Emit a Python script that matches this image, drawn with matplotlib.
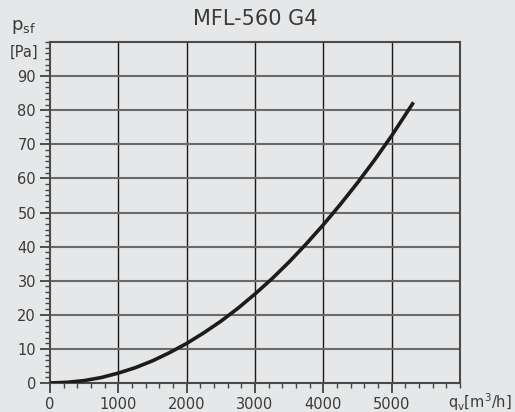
import numpy as np
import matplotlib.pyplot as plt
from matplotlib.ticker import MultipleLocator

# curve
q_v = [0, 250, 500, 750, 1000, 1250, 1500, 1750, 2000, 2250, 2500, 2750,
       3000, 3250, 3500, 3750, 4000, 4250, 4500, 4750, 5000, 5320]
p_sf = [0, 0.2, 0.7, 1.6, 2.9, 4.5, 6.5, 8.9, 11.6, 14.7, 18.1, 21.9,
        26.1, 30.6, 35.5, 40.8, 46.4, 52.4, 58.7, 65.4, 72.5, 82.3]

x_ticks = [0, 1000, 2000, 3000, 4000, 5000]
y_ticks = [0, 10, 20, 30, 40, 50, 60, 70, 80, 90]

bg = '#e6e7e8'
txt = '#3a3a3a'

plt.rcParams['font.family'] = 'DejaVu Sans'

fig = plt.figure(figsize=(5.15, 4.12), dpi=100, facecolor=bg)
ax = fig.add_axes([0.0971, 0.0704, 0.7960, 0.8276])
ax.set_facecolor(bg)

ax.set_xlim(0, 6000)
ax.set_ylim(0, 100)

# grid: black verticals, grey horizontals
for x in x_ticks[1:]:
    ax.axvline(x, color='#1a1a1a', lw=1.0, zorder=1)
for y in y_ticks[1:]:
    ax.axhline(y, color='#6a6a6a', lw=1.5, zorder=1)

ax.plot(q_v, p_sf, '-', color='#1c1c1c', lw=2.6, solid_capstyle='butt',
        solid_joinstyle='round', zorder=3)

ax.set_xticks(x_ticks)
ax.set_yticks(y_ticks)
ax.xaxis.set_minor_locator(MultipleLocator(200))
ax.yaxis.set_minor_locator(MultipleLocator(10 / 6))
ax.tick_params(which='major', length=7, width=1.2, color='#333333',
               labelsize=10.5, labelcolor=txt, pad=3)
ax.tick_params(which='minor', length=3.5, width=1.0, color='#444444')
for s in ax.spines.values():
    s.set_color('#4a4a4a')
    s.set_linewidth(1.5)

fig.text(0.495, 0.955, 'MFL-560 G4', ha='center', va='center', fontsize=15, color=txt)
fig.text(0.022, 0.935, r'p$_{\mathregular{sf}}$', ha='left', va='center', fontsize=13, color=txt)
fig.text(0.018, 0.873, '[Pa]', ha='left', va='center', fontsize=10.5, color=txt)
fig.text(0.994, 0.023, r'q$_{\mathregular{v}}$[m$^{\mathregular{3}}$/h]', ha='right', va='center',
         fontsize=10.5, color=txt)

fig.savefig('out.png', dpi=100, facecolor=bg)
